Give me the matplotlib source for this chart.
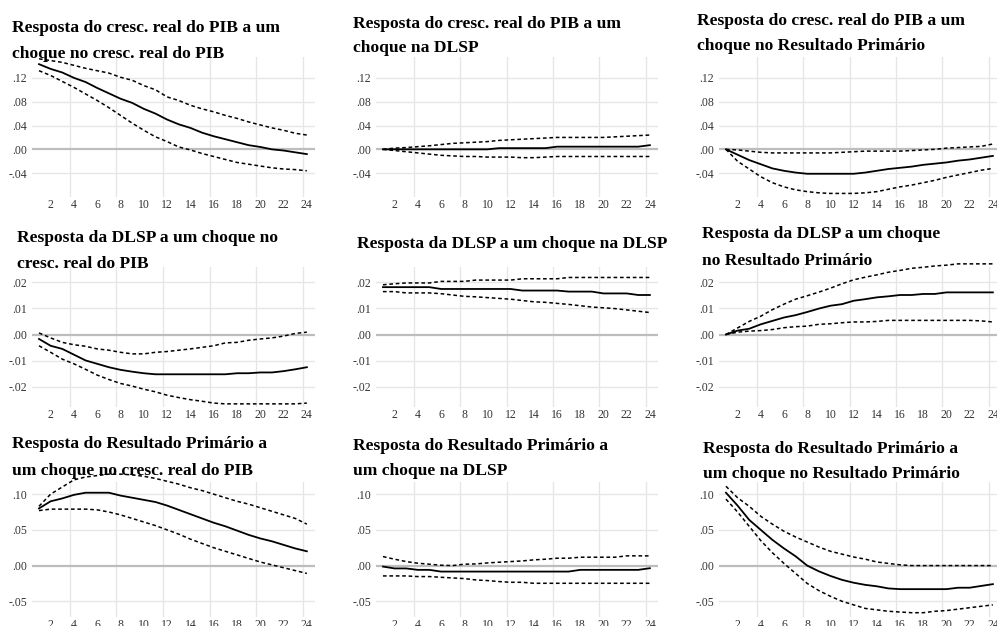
import matplotlib
matplotlib.use("Agg")
import matplotlib.pyplot as plt
from matplotlib.ticker import FuncFormatter

# horizons
periods = list(range(1, 25))
x_labels = list(range(2, 25, 2))
grid_x = [4, 8, 12, 16, 20, 24]

# titles, one list of lines per panel (row by row)
titles = [
    ["Resposta do cresc. real do PIB a um", "choque no cresc. real do PIB"],
    ["Resposta do cresc. real do PIB a um", "choque na DLSP"],
    ["Resposta do cresc. real do PIB a um", "choque no Resultado Primário"],
    ["Resposta da DLSP a um choque no", "cresc. real do PIB"],
    ["Resposta da DLSP a um choque na DLSP"],
    ["Resposta da DLSP a um choque", "no Resultado Primário"],
    ["Resposta do Resultado Primário a", "um choque no cresc. real do PIB"],
    ["Resposta do Resultado Primário a", "um choque na DLSP"],
    ["Resposta do Resultado Primário a", "um choque no Resultado Primário"],
]

# row 1: PIB
pib_pib = [0.143, 0.135, 0.129, 0.120, 0.113, 0.103, 0.094, 0.085, 0.078, 0.068, 0.060, 0.050,
           0.042, 0.036, 0.028, 0.022, 0.017, 0.012, 0.007, 0.004, 0.000, -0.002, -0.005, -0.008]
pib_pib_lo = [0.132, 0.124, 0.114, 0.104, 0.093, 0.082, 0.070, 0.057, 0.044, 0.032, 0.021, 0.013,
              0.004, -0.001, -0.007, -0.012, -0.017, -0.022, -0.025, -0.028, -0.031, -0.033, -0.034, -0.036]
pib_pib_hi = [0.152, 0.149, 0.146, 0.141, 0.136, 0.132, 0.128, 0.121, 0.116, 0.107, 0.100, 0.088,
              0.082, 0.074, 0.068, 0.063, 0.057, 0.052, 0.046, 0.041, 0.036, 0.032, 0.027, 0.024]

pib_dlsp = [0.000, 0.000, 0.000, 0.000, 0.000, 0.000, 0.000, 0.000, 0.000, 0.000, 0.002, 0.002,
            0.002, 0.002, 0.002, 0.0045, 0.0045, 0.0045, 0.0045, 0.0045, 0.0045, 0.0045, 0.0045, 0.007]
pib_dlsp_lo = [0.000, -0.002, -0.004, -0.006, -0.008, -0.010, -0.011, -0.012, -0.012, -0.013, -0.013, -0.013,
               -0.014, -0.014, -0.013, -0.012, -0.012, -0.012, -0.012, -0.012, -0.012, -0.012, -0.012, -0.012]
pib_dlsp_hi = [0.000, 0.002, 0.003, 0.0045, 0.006, 0.008, 0.010, 0.011, 0.012, 0.013, 0.015, 0.016,
               0.017, 0.018, 0.019, 0.020, 0.020, 0.020, 0.020, 0.020, 0.021, 0.022, 0.023, 0.024]

pib_rp = [0.000, -0.009, -0.018, -0.025, -0.032, -0.036, -0.039, -0.041, -0.041, -0.041, -0.041, -0.041,
          -0.039, -0.036, -0.033, -0.031, -0.029, -0.026, -0.024, -0.022, -0.019, -0.017, -0.014, -0.011]
pib_rp_lo = [0.000, -0.020, -0.033, -0.046, -0.056, -0.063, -0.068, -0.071, -0.073, -0.074, -0.074, -0.074,
             -0.073, -0.071, -0.067, -0.063, -0.060, -0.056, -0.052, -0.047, -0.043, -0.039, -0.035, -0.032]
pib_rp_hi = [0.000, -0.001, -0.003, -0.005, -0.006, -0.006, -0.006, -0.006, -0.006, -0.006, -0.005, -0.004,
             -0.003, -0.003, -0.003, -0.003, -0.002, -0.001, 0.000, 0.002, 0.003, 0.004, 0.005, 0.009]

# row 2: DLSP
dlsp_pib = [-0.0017, -0.0043, -0.0055, -0.0077, -0.0099, -0.0112, -0.0125, -0.0135, -0.0142, -0.0148, -0.0152, -0.0152,
            -0.0152, -0.0152, -0.0152, -0.0152, -0.0152, -0.0148, -0.0148, -0.0145, -0.0145, -0.0140, -0.0133, -0.0125]
dlsp_pib_lo = [-0.0043, -0.0068, -0.0094, -0.0112, -0.0133, -0.0155, -0.0172, -0.0187, -0.0197, -0.0209, -0.0219, -0.0232,
               -0.0241, -0.0249, -0.0255, -0.0262, -0.0265, -0.0265, -0.0265, -0.0265, -0.0265, -0.0265, -0.0265, -0.0262]
dlsp_pib_hi = [0.0006, -0.0013, -0.0030, -0.0039, -0.0045, -0.0055, -0.0060, -0.0068, -0.0074, -0.0074, -0.0068, -0.0065,
               -0.0060, -0.0055, -0.0049, -0.0043, -0.0032, -0.0030, -0.0022, -0.0017, -0.0013, -0.0006, 0.0004, 0.0009]

dlsp_dlsp = [0.0181, 0.0181, 0.0181, 0.0181, 0.0181, 0.0174, 0.0174, 0.0174, 0.0174, 0.0174, 0.0174, 0.0174,
             0.0168, 0.0168, 0.0168, 0.0168, 0.0164, 0.0164, 0.0164, 0.0157, 0.0157, 0.0157, 0.0151, 0.0151]
dlsp_dlsp_lo = [0.0164, 0.0164, 0.0159, 0.0159, 0.0159, 0.0156, 0.0151, 0.0146, 0.0144, 0.0141, 0.0138, 0.0135,
                0.0130, 0.0125, 0.0123, 0.0119, 0.0115, 0.0110, 0.0105, 0.0102, 0.0099, 0.0094, 0.0089, 0.0084]
dlsp_dlsp_hi = [0.0190, 0.0194, 0.0197, 0.0197, 0.0197, 0.0203, 0.0203, 0.0203, 0.0208, 0.0208, 0.0208, 0.0208,
                0.0213, 0.0213, 0.0213, 0.0213, 0.0218, 0.0218, 0.0218, 0.0218, 0.0218, 0.0218, 0.0218, 0.0218]

dlsp_rp = [0.0000, 0.0015, 0.0022, 0.0039, 0.0052, 0.0065, 0.0074, 0.0086, 0.0099, 0.0110, 0.0116, 0.0129,
           0.0135, 0.0142, 0.0146, 0.0151, 0.0151, 0.0155, 0.0155, 0.0161, 0.0161, 0.0161, 0.0161, 0.0161]
dlsp_rp_lo = [0.0000, 0.0009, 0.0013, 0.0015, 0.0019, 0.0026, 0.0030, 0.0032, 0.0039, 0.0041, 0.0045, 0.0048,
              0.0048, 0.0050, 0.0054, 0.0054, 0.0054, 0.0054, 0.0054, 0.0054, 0.0054, 0.0054, 0.0052, 0.0048]
dlsp_rp_hi = [0.0000, 0.0025, 0.0050, 0.0070, 0.0095, 0.0116, 0.0135, 0.0148, 0.0162, 0.0177, 0.0194, 0.0209,
              0.0219, 0.0228, 0.0238, 0.0245, 0.0253, 0.0257, 0.0262, 0.0265, 0.0270, 0.0270, 0.0270, 0.0270]

# row 3: Resultado Primario
rp_pib = [0.080, 0.090, 0.094, 0.099, 0.102, 0.102, 0.102, 0.098, 0.095, 0.092, 0.089, 0.084,
          0.078, 0.072, 0.066, 0.060, 0.055, 0.049, 0.043, 0.038, 0.034, 0.029, 0.024, 0.020]
rp_pib_lo = [0.077, 0.079, 0.079, 0.079, 0.079, 0.078, 0.075, 0.071, 0.066, 0.061, 0.056, 0.050,
             0.044, 0.037, 0.031, 0.025, 0.020, 0.015, 0.010, 0.005, 0.001, -0.003, -0.007, -0.011]
rp_pib_hi = [0.083, 0.100, 0.110, 0.120, 0.124, 0.126, 0.128, 0.128, 0.127, 0.125, 0.122, 0.118,
             0.114, 0.109, 0.105, 0.100, 0.095, 0.090, 0.086, 0.081, 0.076, 0.071, 0.066, 0.058]

rp_dlsp = [-0.0014, -0.0040, -0.0040, -0.0060, -0.0060, -0.0084, -0.0084, -0.0084, -0.0084, -0.0084, -0.0084, -0.0084,
           -0.0084, -0.0084, -0.0084, -0.0084, -0.0084, -0.0060, -0.0060, -0.0060, -0.0060, -0.0060, -0.0060, -0.0037]
rp_dlsp_lo = [-0.0145, -0.0145, -0.0145, -0.0154, -0.0154, -0.0164, -0.0173, -0.0182, -0.0201, -0.0210, -0.0224, -0.0234,
              -0.0234, -0.0248, -0.0248, -0.0248, -0.0248, -0.0248, -0.0248, -0.0248, -0.0248, -0.0248, -0.0248, -0.0248]
rp_dlsp_hi = [0.0126, 0.0089, 0.0056, 0.0033, 0.0019, 0.0005, 0.0000, 0.0019, 0.0023, 0.0037, 0.0047, 0.0056,
              0.0065, 0.0080, 0.0089, 0.0103, 0.0103, 0.0117, 0.0117, 0.0117, 0.0117, 0.0136, 0.0136, 0.0136]

rp_rp = [0.102, 0.084, 0.064, 0.050, 0.036, 0.024, 0.013, 0.000, -0.008, -0.0145, -0.020, -0.024,
         -0.027, -0.029, -0.032, -0.033, -0.033, -0.033, -0.033, -0.033, -0.031, -0.031, -0.0285, -0.026]
rp_rp_lo = [0.093, 0.075, 0.055, 0.035, 0.018, 0.003, -0.011, -0.025, -0.035, -0.043, -0.050, -0.055,
            -0.060, -0.062, -0.064, -0.065, -0.066, -0.066, -0.064, -0.063, -0.061, -0.059, -0.057, -0.055]
rp_rp_hi = [0.111, 0.095, 0.083, 0.069, 0.058, 0.048, 0.040, 0.033, 0.026, 0.020, 0.016, 0.012,
            0.009, 0.005, 0.003, 0.001, 0.000, 0.000, 0.000, 0.000, 0.000, 0.000, 0.000, 0.000]

series = [
    (pib_pib, pib_pib_lo, pib_pib_hi), (pib_dlsp, pib_dlsp_lo, pib_dlsp_hi), (pib_rp, pib_rp_lo, pib_rp_hi),
    (dlsp_pib, dlsp_pib_lo, dlsp_pib_hi), (dlsp_dlsp, dlsp_dlsp_lo, dlsp_dlsp_hi), (dlsp_rp, dlsp_rp_lo, dlsp_rp_hi),
    (rp_pib, rp_pib_lo, rp_pib_hi), (rp_dlsp, rp_dlsp_lo, rp_dlsp_hi), (rp_rp, rp_rp_lo, rp_rp_hi),
]

row_yticks = [[-0.04, 0.00, 0.04, 0.08, 0.12],
              [-0.02, -0.01, 0.00, 0.01, 0.02],
              [-0.05, 0.00, 0.05, 0.10]]
row_ylim = [(-0.080, 0.155), (-0.0277, 0.0258), (-0.072, 0.117)]

# layout in pixels (figure 997 x 626)
W, H = 997, 626
col_lr = [(32, 315), (376, 658), (719, 1001)]
row_tb = [(57, 197), (267, 407), (482, 617)]
title_x = [[12, 353, 697], [17, 357, 702], [12, 353, 703]]
title_base = [[(32, 58), (28, 52), (25, 50)],
              [(242, 268), (248,), (238, 265)],
              [(448, 475), (450, 475), (453, 478)]]

SERIF = ["Liberation Serif", "DejaVu Serif"]
GRID = "#e6e6e6"


def no_lead_zero(v, pos):
    return f"{v:.2f}".replace("0.", ".", 1)


fig = plt.figure(figsize=(W / 100, H / 100), dpi=100)

for i, (resp, lo, hi) in enumerate(series):
    r, c = divmod(i, 3)
    left, right = col_lr[c]
    top, bottom = row_tb[r]
    ax = fig.add_axes([left / W, 1 - bottom / H, (right - left) / W, (bottom - top) / H])

    ax.set_xlim(0.4, 24.7)
    ax.set_ylim(*row_ylim[r])
    ax.set_yticks(row_yticks[r])
    ax.set_xticks(x_labels)
    ax.yaxis.set_major_formatter(FuncFormatter(no_lead_zero))

    # grid: horizontal at y ticks, vertical every 4 periods (drawn a bit left, EViews style)
    for yv in row_yticks[r]:
        if yv != 0:
            ax.axhline(yv, color=GRID, lw=1.0, zorder=0)
    for gx in grid_x:
        ax.axvline(gx - 0.35, color=GRID, lw=1.0, zorder=0)
    ax.axhline(0, color="#bdbdbd", lw=1.6, zorder=1)

    ax.plot(periods, resp, color="black", lw=1.3, zorder=3, clip_on=False)
    ax.plot(periods, lo, color="black", lw=1.1, ls=(0, (2.4, 1.8)), zorder=3, clip_on=False)
    ax.plot(periods, hi, color="black", lw=1.1, ls=(0, (2.4, 1.8)), zorder=3, clip_on=False)

    for s in ax.spines.values():
        s.set_visible(False)
    ax.tick_params(axis="y", length=0, labelsize=8.5, labelcolor="#333333", pad=3.5)
    ax.tick_params(axis="x", length=0, labelsize=8.5, labelcolor="#333333", pad=1.5)
    for lab in ax.get_xticklabels() + ax.get_yticklabels():
        lab.set_family(SERIF)
    ax.set_facecolor("none")

    for line, yb in zip(titles[i], title_base[r][c]):
        fig.text(title_x[r][c] / W, 1 - yb / H, line, ha="left", va="baseline",
                 fontsize=12.6, fontweight="bold", family=SERIF, color="black")

fig.savefig("out.png", dpi=100)
